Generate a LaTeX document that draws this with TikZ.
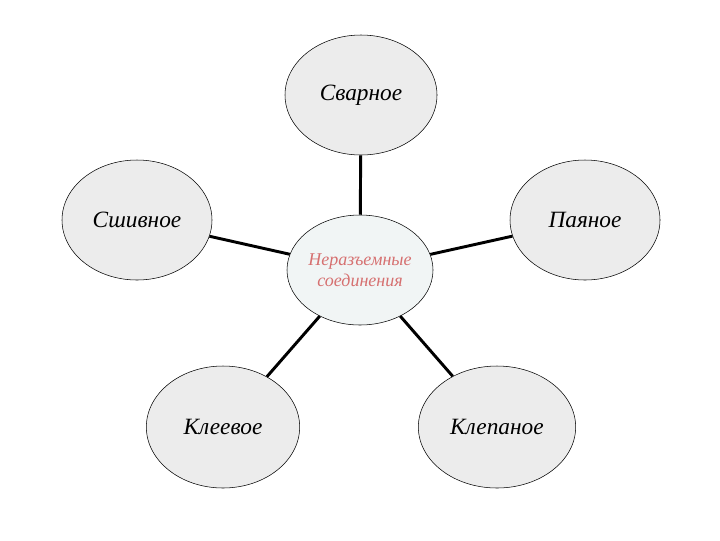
\documentclass[tikz,border=0pt]{standalone}
\usepackage{fontspec}
\setmainfont{Liberation Serif}
\usetikzlibrary{shapes.geometric}
\begin{document}
\begin{tikzpicture}[x=0.75pt,y=0.75pt,yscale=-1,xscale=1]
\tikzset{
  part/.style={draw=black,fill={rgb,255:red,236;green,236;blue,236},ellipse,inner sep=0pt,
    minimum width=112.5pt,minimum height=90pt,font=\itshape\fontsize{17.5}{21}\selectfont},
  link/.style={line width=2.2pt,black}
}
\useasboundingbox (0,0) rectangle (720,540);
% central node
\node [draw=black,fill={rgb,255:red,241;green,245;blue,245},ellipse,inner sep=0pt,
  minimum width=108pt,minimum height=82.5pt,align=center,
  text={rgb,255:red,214;green,112;blue,112},font=\itshape\fontsize{13.5}{16}\selectfont]
  (center) at (360,270) {Неразъемные\\соединения};
% outer nodes
\node [part,minimum width=114pt] (svar) at (361,95) {Сварное};
\node [part] (shiv) at (137,220) {Сшивное};
\node [part] (payan) at (585,220) {Паяное};
\node [part,minimum width=115pt,minimum height=91.5pt] (kley) at (223,427) {Клеевое};
\node [part,minimum width=118pt,minimum height=91.5pt] (klep) at (497,427) {Клепаное};
% links
\draw [link] (svar) -- (center);
\draw [link] (shiv) -- (center);
\draw [link] (payan) -- (center);
\draw [link] (kley) -- (center);
\draw [link] (klep) -- (center);
\end{tikzpicture}
\end{document}
